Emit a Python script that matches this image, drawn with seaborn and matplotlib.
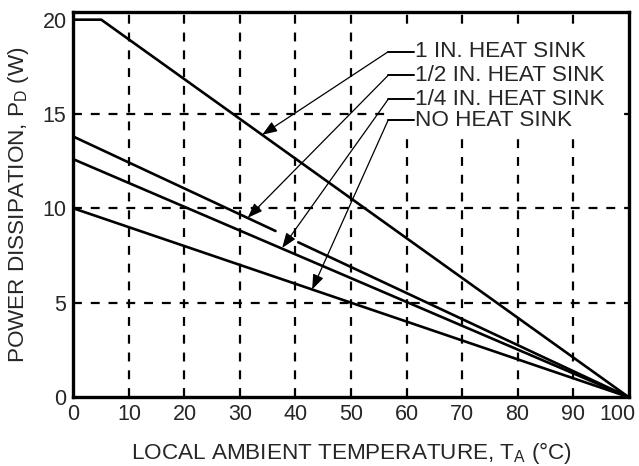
import matplotlib
matplotlib.use("Agg")
import matplotlib.pyplot as plt
import matplotlib.transforms as mtransforms
from matplotlib.patches import Rectangle
import seaborn as sns
import pandas as pd

# curves (temperature in C, power in W)
one_in_x = [0, 5, 100]
one_in_y = [20, 20, 0]
half_in_x1 = [0, 36.4]
half_in_y1 = [13.8, 8.8]
half_in_x2 = [40.5, 100]
half_in_y2 = [8.2, 0]
quarter_in_x = [0, 100]
quarter_in_y = [12.6, 0]
none_x = [0, 100]
none_y = [10, 0]

labels = ["1 IN. HEAT SINK", "1/2 IN. HEAT SINK", "1/4 IN. HEAT SINK", "NO HEAT SINK"]
label_y = [18.3, 17.05, 15.78, 14.68]
tip_x = [34.0, 31.4, 37.6, 43.0]
tip_y = [13.9, 9.5, 7.9, 5.7]

xticks = [0, 10, 20, 30, 40, 50, 60, 70, 80, 90, 100]
yticks = [0, 5, 10, 15, 20]

sns.set_style("white")
plt.rcParams['font.family'] = ['Liberation Sans', 'DejaVu Sans']
plt.rcParams['mathtext.fontset'] = 'custom'
plt.rcParams['mathtext.rm'] = 'Liberation Sans'

fig = plt.figure(figsize=(6.39, 4.66), dpi=100)
ax = fig.add_axes([0.115, 0.148, 0.8686, 0.826])

# grid first so curves sit on top
for gx in xticks[1:-1]:
    ax.axvline(gx, color="k", lw=1.6, dashes=(4, 4), zorder=1)
for gy in yticks[1:-1]:
    ax.axhline(gy, color="k", lw=1.6, dashes=(4, 4), zorder=1)

# blank area behind the label block
ax.add_patch(Rectangle((57.4, 14.1), 41.0, 5.5, facecolor="white", edgecolor="none", zorder=2))

segs = [(one_in_x, one_in_y), (half_in_x1, half_in_y1), (half_in_x2, half_in_y2),
        (quarter_in_x, quarter_in_y), (none_x, none_y)]
for sx, sy in segs:
    d = pd.DataFrame({"T": sx, "P": sy})
    sns.lineplot(data=d, x="T", y="P", color="k", lw=1.9, ax=ax, zorder=3)

for lab, ly, tx, ty in zip(labels, label_y, tip_x, tip_y):
    ax.plot([56.7, 61.4], [ly, ly], color="k", lw=1.4, zorder=4)
    ax.annotate("", xy=(tx, ty), xytext=(56.7, ly),
                arrowprops=dict(arrowstyle="-|>,head_length=0.75,head_width=0.28",
                                mutation_scale=12, color="k", lw=0.9,
                                shrinkA=0, shrinkB=0), zorder=4)
    ax.text(61.5, ly, lab, fontsize=16.2, va="center", ha="left", zorder=5)

ax.set_xlim(0, 100)
ax.set_ylim(0, 20.4)
ax.set_xticks(xticks)
ax.set_yticks(yticks)
ax.tick_params(length=0, labelsize=15.5, pad=5)
ax.tick_params(axis="y", pad=5)
for sp in ax.spines.values():
    sp.set_linewidth(2.4)
    sp.set_color("k")
    sp.set_visible(True)

lbl = ax.get_xticklabels()[-1]
lbl.set_transform(lbl.get_transform() + mtransforms.ScaledTranslation(-0.11, 0, fig.dpi_scale_trans))

ax.set_xlabel(r"LOCAL AMBIENT TEMPERATURE, T$_{\mathregular{A}}$ (°C)", fontsize=16.2, labelpad=11)
ax.set_ylabel(r"POWER DISSIPATION, P$_{\mathregular{D}}$ (W)", fontsize=16.2, labelpad=8)

fig.savefig("out.png", dpi=100)
